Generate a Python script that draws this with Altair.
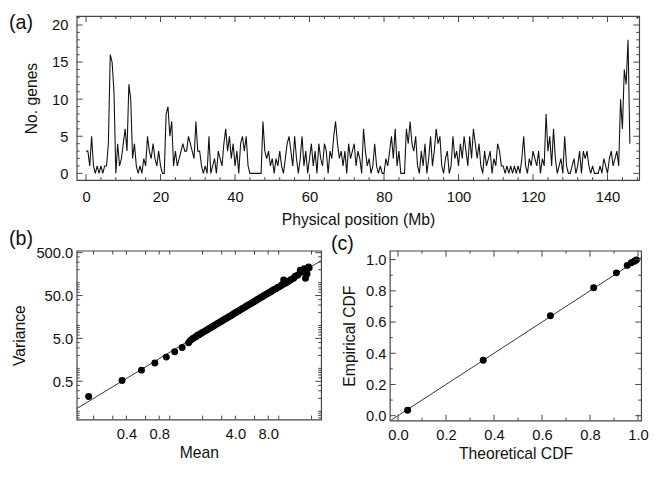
import altair as alt
import pandas as pd

FONT = "Liberation Sans"
INK = "#111111"
FRAME = "#444444"

# ---------------- Panel (a): genes per 0.5 Mb bin ----------------
bin_mb = 0.5
gene_counts = [
    3, 3, 1, 5, 1, 0, 1, 0, 1, 0, 1, 1, 4, 16, 15, 11, 0, 4, 1, 2,
    4, 6, 3, 12, 10, 2, 4, 1, 0, 1, 0, 2, 1, 5, 3, 2, 4, 2, 1, 3,
    1, 0, 0, 8, 9, 5, 7, 1, 3, 1, 2, 3, 4, 3, 3, 5, 4, 3, 2, 7,
    3, 3, 1, 0, 1, 0, 5, 0, 1, 2, 0, 3, 2, 1, 4, 6, 3, 5, 2, 4,
    1, 3, 0, 4, 5, 3, 5, 1, 0, 0, 0, 0, 0, 0, 0, 7, 3, 2, 3, 1,
    2, 0, 2, 1, 3, 1, 0, 2, 4, 5, 3, 1, 5, 2, 0, 2, 5, 1, 3, 0,
    2, 4, 1, 3, 0, 4, 2, 1, 4, 3, 0, 3, 2, 5, 7, 4, 2, 3, 1, 3,
    0, 4, 2, 3, 4, 1, 3, 2, 0, 6, 3, 1, 2, 0, 1, 4, 1, 0, 1, 0,
    0, 2, 1, 3, 5, 2, 6, 1, 3, 0, 0, 0, 6, 4, 7, 4, 3, 5, 1, 0,
    3, 1, 4, 0, 2, 5, 1, 3, 6, 4, 5, 1, 0, 2, 3, 0, 1, 5, 2, 3,
    1, 4, 2, 5, 3, 1, 5, 2, 6, 4, 2, 4, 1, 0, 3, 1, 2, 3, 0, 2,
    1, 4, 3, 1, 1, 0, 1, 0, 1, 0, 1, 0, 1, 0, 2, 5, 1, 0, 2, 1,
    3, 2, 1, 3, 0, 2, 1, 8, 3, 5, 1, 6, 2, 0, 1, 2, 0, 5, 1, 0,
    0, 1, 2, 0, 1, 3, 0, 3, 2, 3, 1, 0, 1, 0, 0, 0, 1, 0, 2, 1,
    0, 2, 3, 1, 2, 3, 1, 10, 6, 14, 12, 18, 4,
]
position_mb = [i * bin_mb for i in range(len(gene_counts))]

pos_ticks_major = [0, 20, 40, 60, 80, 100, 120, 140]
pos_ticks_minor = [v for v in range(4, 149, 4) if v % 20 != 0]
count_ticks_major = [0, 5, 10, 15, 20]
count_ticks_minor = [v for v in range(0, 22) if v % 5 != 0]

# ---------------- Panel (b): variance vs mean ----------------
mean_values = [
    0.18, 0.365, 0.55, 0.73, 0.93, 1.11, 1.30, 1.49,
    1.55, 1.62, 1.68, 1.74, 1.80, 1.86, 1.93, 2.00,
    2.07, 2.14, 2.22, 2.30, 2.38, 2.46, 2.55, 2.64,
    2.73, 2.83, 2.93, 3.03, 3.14, 3.26, 3.38, 3.50,
    3.63, 3.76, 3.90, 4.05, 4.20, 4.36, 4.52, 4.69,
    4.86, 5.04, 5.23, 5.43, 5.63, 5.84, 6.06, 6.29,
    6.52, 6.77, 7.02, 7.28, 7.56, 7.84, 8.13, 8.44,
    8.76, 9.09, 9.43, 9.79,
    10.2, 10.6, 11.0, 11.1, 11.5, 12.0, 12.5, 13.0, 13.7, 14.2,
    15.0, 15.8, 16.4, 17.6, 17.2, 18.8, 18.2, 19.0,
]
variance_values = [
    0.22, 0.52, 0.91, 1.34, 1.83, 2.44, 3.07, 3.97,
    4.5, 4.9, 5.2, 5.5, 5.9, 6.1, 6.5, 6.9,
    7.2, 7.6, 8.0, 8.5, 8.9, 9.4, 9.9, 10.5,
    11.0, 11.6, 12.2, 12.9, 13.6, 14.4, 15.2, 16.1,
    17.0, 17.8, 19.0, 20.1, 21.3, 22.5, 23.8, 25.2,
    26.5, 28.1, 29.6, 31.5, 33.2, 35.1, 37.3, 39.4,
    41.6, 44.3, 46.5, 49.4, 52.3, 55.0, 58.4, 61.5,
    65.3, 69.0, 72.4, 77.5,
    80.8, 87.0, 92.0, 116, 96.5, 104, 110, 118, 126, 141,
    150, 195, 176, 126, 210, 231, 160, 220,
]
fit_mean = [0.12, 30.0]
fit_variance = [0.091, 445.0]

mean_tick_labels = [0.4, 0.8, 4.0, 8.0]
mean_ticks = [0.2, 0.3, 0.4, 0.6, 0.8, 1, 2, 3, 4, 6, 8, 10, 20]
var_tick_labels = [0.5, 5.0, 50.0, 500.0]
var_ticks_minor = [0.07, 0.08, 0.09, 0.1, 0.2, 0.3, 0.4, 0.6, 0.7, 0.8, 0.9,
                   1, 2, 3, 4, 6, 7, 8, 9, 10, 20, 30, 40, 60, 70, 80, 90,
                   100, 200, 300, 400]

# ---------------- Panel (c): empirical vs theoretical CDF ----------------
theoretical_cdf = [0.04, 0.355, 0.635, 0.815, 0.91, 0.955, 0.972, 0.985, 0.993]
empirical_cdf = [0.035, 0.355, 0.64, 0.82, 0.915, 0.963, 0.98, 0.99, 0.997]
diag = [-0.1, 1.2]
cdf_ticks_major = [0.0, 0.2, 0.4, 0.6, 0.8, 1.0]
cdf_ticks_minor = [0.1, 0.3, 0.5, 0.7, 0.9]

MAJ, MIN = 6, 3


def axis(values, fmt, title, lp, tp):
    return alt.Axis(values=values, format=fmt, title=title, labelPadding=lp,
                    titlePadding=tp, labelOverlap=False, labelFlush=False)


def tick_layers(scale, ax, vals, length, which, W, H):
    df = pd.DataFrame({"t": vals})
    base = alt.Chart(df).mark_rule(color=FRAME, strokeWidth=1)
    if which == "x":
        enc = alt.X("t:Q", scale=scale, axis=ax)
        return [
            base.encode(x=enc, y=alt.value(H), y2=alt.value(H - length)),
            base.encode(x=enc, y=alt.value(0), y2=alt.value(length)),
        ]
    enc = alt.Y("t:Q", scale=scale, axis=ax)
    return [
        base.encode(y=enc, x=alt.value(0), x2=alt.value(length)),
        base.encode(y=enc, x=alt.value(W), x2=alt.value(W - length)),
    ]


def panel_label(text, x, y):
    return alt.Chart(pd.DataFrame({"lab": [text]})).mark_text(
        font=FONT, fontSize=20, align="left", baseline="middle", color=INK
    ).encode(text="lab:N", x=alt.value(x), y=alt.value(y))


# ---- (a)
WA, HA = 573, 167
xa = alt.Scale(domain=[-2.5, 148.5], nice=False, zero=False)
ya = alt.Scale(domain=[-0.9, 21.2], nice=False, zero=False)
axa_x = axis(pos_ticks_major, "d", "Physical position (Mb)", 10, 7)
axa_y = axis(count_ticks_major, "d", "No. genes", 9, 12)
df_a = pd.DataFrame({"pos": position_mb, "n": gene_counts})
line_a = alt.Chart(df_a).mark_line(color=INK, strokeWidth=1.1, clip=True).encode(
    x=alt.X("pos:Q", scale=xa, axis=axa_x),
    y=alt.Y("n:Q", scale=ya, axis=axa_y),
)
layers_a = [line_a]
layers_a += tick_layers(xa, axa_x, pos_ticks_major, MAJ, "x", WA, HA)
layers_a += tick_layers(xa, axa_x, pos_ticks_minor, MIN, "x", WA, HA)
layers_a += tick_layers(ya, axa_y, count_ticks_major, MAJ, "y", WA, HA)
layers_a += tick_layers(ya, axa_y, count_ticks_minor, MIN, "y", WA, HA)
layers_a.append(panel_label("(a)", -69, 7))
chart_a = alt.layer(*layers_a).properties(width=WA, height=HA)

# ---- (b)
WB, HB = 249, 172
xb = alt.Scale(type="log", domain=[0.14, 24.5], nice=False)
yb = alt.Scale(type="log", domain=[0.064, 556], nice=False)
axb_x = axis(mean_tick_labels, ".1f", "Mean", 7, 4)
axb_y = axis(var_tick_labels, ".1f", "Variance", 4, 9)
df_b = pd.DataFrame({"mean": mean_values, "var": variance_values})
df_fit = pd.DataFrame({"mean": fit_mean, "var": fit_variance})
fit_b = alt.Chart(df_fit).mark_line(color="#333333", strokeWidth=1, clip=True).encode(
    x=alt.X("mean:Q", scale=xb, axis=axb_x),
    y=alt.Y("var:Q", scale=yb, axis=axb_y),
)
pts_b = alt.Chart(df_b).mark_circle(size=50, color="#000000", opacity=1, clip=True).encode(
    x=alt.X("mean:Q", scale=xb, axis=axb_x), y=alt.Y("var:Q", scale=yb, axis=axb_y)
)
layers_b = [fit_b, pts_b]
layers_b += tick_layers(xb, axb_x, mean_ticks, MIN + 1, "x", WB, HB)
layers_b += tick_layers(yb, axb_y, var_tick_labels, MAJ, "y", WB, HB)
layers_b += tick_layers(yb, axb_y, var_ticks_minor, MIN, "y", WB, HB)
layers_b.append(panel_label("(b)", -69, -12))
chart_b = alt.layer(*layers_b).properties(width=WB, height=HB)

# ---- (c)
WC, HC = 256, 173
xc = alt.Scale(domain=[-0.034, 1.013], nice=False, zero=False)
yc = alt.Scale(domain=[-0.031, 1.057], nice=False, zero=False)
axc_x = axis(cdf_ticks_major, ".1f", "Theoretical CDF", 7, 4)
axc_y = axis(cdf_ticks_major, ".1f", "Empirical CDF", 4, 8)
df_c = pd.DataFrame({"theo": theoretical_cdf, "emp": empirical_cdf})
df_diag = pd.DataFrame({"theo": diag, "emp": diag})
diag_c = alt.Chart(df_diag).mark_line(color="#333333", strokeWidth=1, clip=True).encode(
    x=alt.X("theo:Q", scale=xc, axis=axc_x),
    y=alt.Y("emp:Q", scale=yc, axis=axc_y),
)
pts_c = alt.Chart(df_c).mark_circle(size=50, color="#000000", opacity=1, clip=True).encode(
    x=alt.X("theo:Q", scale=xc, axis=axc_x), y=alt.Y("emp:Q", scale=yc, axis=axc_y)
)
layers_c = [diag_c, pts_c]
layers_c += tick_layers(xc, axc_x, cdf_ticks_major, MAJ, "x", WC, HC)
layers_c += tick_layers(xc, axc_x, cdf_ticks_minor, MIN, "x", WC, HC)
layers_c += tick_layers(yc, axc_y, cdf_ticks_major, MAJ, "y", WC, HC)
layers_c += tick_layers(yc, axc_y, cdf_ticks_minor, MIN, "y", WC, HC)
layers_c.append(panel_label("(c)", -60, -7))
chart_c = alt.layer(*layers_c).properties(width=WC, height=HC)

bottom = alt.hconcat(chart_b, chart_c, spacing=7)
chart = alt.vconcat(chart_a, bottom, spacing=0).properties(
    padding={"left": 0, "top": 0, "right": 0, "bottom": -5}, background="white"
).configure_view(
    stroke=FRAME, strokeWidth=1.2
).configure_axis(
    labelFont=FONT, titleFont=FONT, labelFontSize=15, titleFontSize=16,
    labelColor=INK, titleColor=INK, titleFontWeight="normal",
    ticks=False, domain=False, grid=False, labelOverlap=False,
)

chart.save("out.html", embed_options={"renderer": "svg", "actions": False})
